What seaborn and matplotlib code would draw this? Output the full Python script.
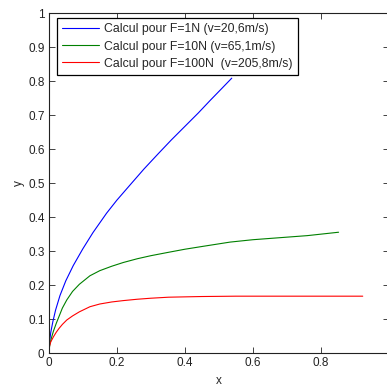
import numpy as np
import pandas as pd
import seaborn as sns
import matplotlib
matplotlib.use("Agg")
import matplotlib.pyplot as plt

# values
x_f1 = [0, 0.002, 0.006, 0.012, 0.02, 0.033, 0.05, 0.072, 0.1, 0.13, 0.17, 0.2, 0.239,
        0.28, 0.322, 0.36, 0.4, 0.44, 0.474, 0.51, 0.538]
y_f1 = [0, 0.032, 0.062, 0.093, 0.127, 0.17, 0.213, 0.258, 0.307, 0.355, 0.412, 0.45, 0.495,
        0.542, 0.587, 0.627, 0.667, 0.707, 0.743, 0.78, 0.809]

x_f10 = [0, 0.003, 0.008, 0.014, 0.022, 0.03, 0.04, 0.053, 0.07, 0.09, 0.121, 0.15, 0.185,
         0.219, 0.26, 0.3, 0.352, 0.4, 0.45, 0.533, 0.6, 0.68, 0.76, 0.852]
y_f10 = [0, 0.025, 0.046, 0.066, 0.088, 0.108, 0.133, 0.157, 0.182, 0.203, 0.228, 0.243, 0.256,
         0.267, 0.278, 0.287, 0.297, 0.306, 0.314, 0.327, 0.334, 0.34, 0.346, 0.356]

x_f100 = [0, 0.002, 0.006, 0.014, 0.022, 0.03, 0.04, 0.053, 0.07, 0.09, 0.121, 0.15, 0.185,
          0.219, 0.26, 0.3, 0.352, 0.4, 0.45, 0.55, 0.7, 0.923]
y_f100 = [0, 0.02, 0.034, 0.049, 0.062, 0.073, 0.085, 0.098, 0.11, 0.122, 0.137, 0.145, 0.151,
          0.155, 0.159, 0.162, 0.165, 0.166, 0.167, 0.168, 0.168, 0.168]

labels = ["Calcul pour F=1N (v=20,6m/s)",
          "Calcul pour F=10N (v=65,1m/s)",
          "Calcul pour F=100N  (v=205,8m/s)"]
colors = ["#0000ff", "#008000", "#ff0000"]

sns.set_style("ticks")
plt.rcParams['font.family'] = ['Liberation Sans', 'DejaVu Sans']
plt.rcParams['font.size'] = 8

fig = plt.figure(figsize=(3.87, 3.87), dpi=100)
ax = fig.add_axes([0.126, 0.087, 0.879, 0.879])

series = [(x_f1, y_f1), (x_f10, y_f10), (x_f100, y_f100)]
for (xs, ys), lab, col in zip(series, labels, colors):
    df = pd.DataFrame({"x": xs, "y": ys})
    sns.lineplot(data=df, x="x", y="y", sort=False, color=col, linewidth=0.8,
                 label=lab, ax=ax)

ax.set_xlim(0, 1)
ax.set_ylim(0, 1)
ax.set_xticks(np.arange(0, 1.01, 0.2))
ax.set_yticks(np.arange(0, 1.01, 0.1))
ax.set_xticklabels(["0", "0.2", "0.4", "0.6", "0.8", "1"])
ax.set_yticklabels(["0", "0.1", "0.2", "0.3", "0.4", "0.5", "0.6", "0.7", "0.8", "0.9", "1"])
ax.tick_params(direction="in", top=True, right=True, length=4, width=0.6,
               labelsize=8.5, colors="#222222", pad=3)
for s in ax.spines.values():
    s.set_visible(True)
    s.set_linewidth(0.8)
    s.set_color("#222222")
ax.set_xlabel("x", fontsize=8.5, labelpad=4)
ax.set_ylabel("y", fontsize=8.5, labelpad=2)

leg = ax.legend(loc="upper left", bbox_to_anchor=(0.024, 0.986), borderaxespad=0,
                fancybox=False, framealpha=1, edgecolor="black", fontsize=8.8,
                handlelength=3.0, handletextpad=0.4, labelspacing=0.42,
                borderpad=0.45)
leg.get_frame().set_linewidth(0.9)

fig.savefig("out.png", dpi=100)
